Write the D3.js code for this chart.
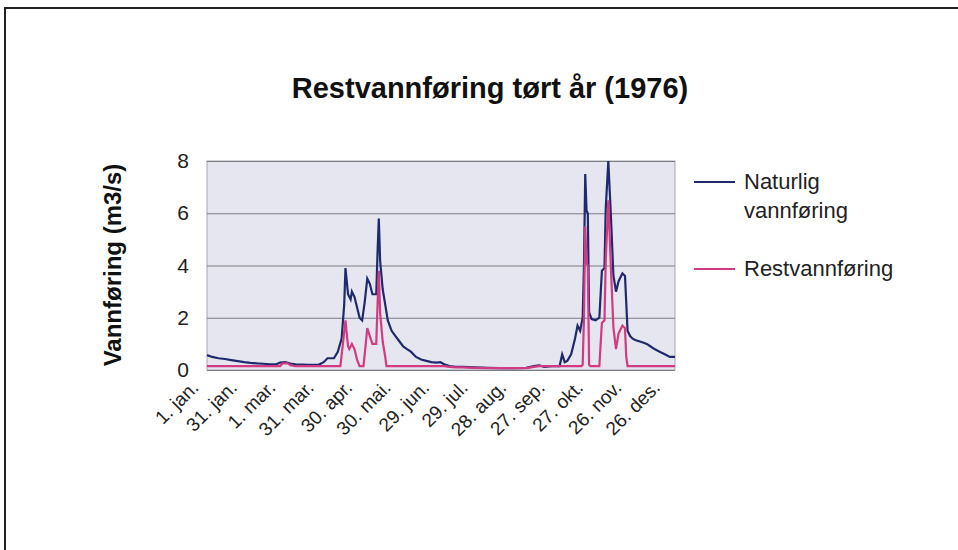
<!DOCTYPE html>
<html>
<head>
<meta charset="utf-8">
<script src="https://cdn.jsdelivr.net/npm/d3@7"></script>
<style>
  body { margin: 0; background: #ffffff; }
  svg { display: block; font-family: "Liberation Sans", Arial, sans-serif; }
</style>
</head>
<body>
<div id="chart"></div>
<script>
// day of year (1976, leap year) for the labelled ticks
var tickDays = [1, 31, 61, 91, 121, 151, 181, 211, 241, 271, 301, 331, 361];
var tickLabels = ["1. jan.", "31. jan.", "1. mar.", "31. mar.", "30. apr.", "30. mai.",
                  "29. jun.", "29. jul.", "28. aug.", "27. sep.", "27. okt.", "26. nov.", "26. des."];
var yTicks = [0, 2, 4, 6, 8];

// Naturlig vannføring, [day, m3/s]
var naturlig = [
  [1,0.57],[5,0.5],[10,0.45],[15,0.42],[20,0.38],[25,0.34],[30,0.3],[35,0.27],[40,0.25],
  [45,0.24],[50,0.22],[55,0.22],[58,0.28],[62,0.3],[66,0.25],[70,0.22],[80,0.2],[88,0.2],
  [92,0.3],[95,0.45],[100,0.45],[103,0.7],[106,1.2],[108,2.5],[109,3.9],[111,2.9],[113,2.7],
  [114,3.0],[116,2.8],[118,2.4],[120,2.0],[122,1.9],[124,2.6],[126,3.5],[128,3.3],[130,2.9],
  [133,2.9],[134,4.5],[135,5.8],[136,4.2],[138,3.1],[140,2.5],[142,1.9],[145,1.5],[148,1.3],
  [151,1.1],[154,0.9],[157,0.8],[160,0.7],[164,0.5],[168,0.4],[172,0.35],[176,0.3],[180,0.28],
  [183,0.3],[186,0.22],[190,0.15],[195,0.12],[200,0.12],[210,0.1],[220,0.08],[230,0.07],
  [240,0.07],[250,0.08],[256,0.15],[260,0.18],[264,0.12],[270,0.15],[276,0.15],[278,0.6],
  [280,0.3],[282,0.35],[285,0.6],[288,1.2],[290,1.7],[292,1.5],[294,2.0],[295,4.0],[296,7.5],
  [297,6.1],[298,6.0],[299,2.2],[301,1.95],[304,1.9],[307,2.0],[309,3.8],[311,3.9],[312,6.2],
  [314,8.0],[316,5.9],[318,3.6],[320,3.0],[322,3.4],[325,3.7],[327,3.6],[329,1.5],[331,1.3],
  [333,1.2],[335,1.15],[338,1.1],[341,1.05],[344,1.0],[347,0.9],[350,0.8],[354,0.7],
  [358,0.6],[362,0.5],[366,0.5]
];

// Restvannføring
var restvann = [
  [1,0.15],[58,0.15],[60,0.25],[64,0.25],[66,0.18],[70,0.15],[105,0.15],[107,1.0],[109,1.9],
  [111,0.9],[112,0.8],[114,1.0],[116,0.8],[118,0.4],[120,0.15],[123,0.15],[124,0.6],[126,1.6],
  [128,1.3],[130,1.0],[133,1.0],[134,2.5],[135,3.8],[136,2.2],[138,1.1],[140,0.5],[141,0.15],
  [186,0.15],[190,0.12],[195,0.1],[200,0.1],[210,0.08],[220,0.07],[250,0.07],[256,0.12],
  [260,0.15],[293,0.15],[294,0.2],[295,2.0],[296,5.5],[297,4.1],[298,4.0],[299,0.2],[300,0.15],
  [307,0.15],[308,1.0],[309,1.8],[311,1.9],[312,4.2],[314,6.5],[316,3.9],[318,1.6],[320,0.8],
  [322,1.4],[325,1.7],[327,1.6],[328,0.5],[329,0.15],[366,0.15]
];

var blue = "#1e2a6c", pink = "#d23a82";

var svg = d3.select("#chart").append("svg")
  .attr("width", 958)
  .attr("height", 550);

// scanned frame: left and top edges
svg.append("path")
  .attr("d", "M5,550V8H958")
  .attr("fill", "none")
  .attr("stroke", "#222")
  .attr("stroke-width", 2);

var x = d3.scaleLinear().domain([1, 366]).range([207, 675]);
var y = d3.scaleLinear().domain([0, 8]).range([370, 161]);

// plot area
svg.append("rect")
  .attr("x", x(1)).attr("y", y(8))
  .attr("width", x(366) - x(1)).attr("height", y(0) - y(8))
  .attr("fill", "#e5e6ef")
  .attr("stroke", "#a8a8b0");

// gridlines
svg.append("g")
  .attr("transform", "translate(" + x(1) + ",0)")
  .call(d3.axisLeft(y).tickValues(yTicks).tickSize(-(x(366) - x(1))).tickFormat(""))
  .call(function (g) {
    g.select(".domain").remove();
    g.selectAll("line").attr("stroke", "#7c7c84");
  });

// y tick labels
svg.append("g")
  .attr("transform", "translate(" + (x(1) - 18) + ",0)")
  .call(d3.axisLeft(y).tickValues(yTicks).tickSize(0).tickPadding(0))
  .call(function (g) {
    g.select(".domain").remove();
    g.selectAll("text").attr("font-size", 21).attr("fill", "#222")
      .attr("font-family", "Liberation Sans, Arial, sans-serif");
  });

// x tick labels, slanted
svg.append("g")
  .selectAll("text")
  .data(tickDays)
  .enter()
    .append("text")
    .attr("transform", function (d) { return "translate(" + (x(d) - 12) + ",384) rotate(-45)"; })
    .attr("text-anchor", "end")
    .attr("dy", "0.35em")
    .attr("font-size", 19)
    .attr("fill", "#222")
    .text(function (d, i) { return tickLabels[i]; });

var line = d3.line()
  .x(function (d) { return x(d[0]); })
  .y(function (d) { return y(d[1]); });

svg.append("path")
  .datum(naturlig)
  .attr("d", line)
  .attr("fill", "none")
  .attr("stroke", blue)
  .attr("stroke-width", 2.2);

svg.append("path")
  .datum(restvann)
  .attr("d", line)
  .attr("fill", "none")
  .attr("stroke", pink)
  .attr("stroke-width", 2.2);

// title
svg.append("text")
  .attr("x", 490).attr("y", 98)
  .attr("text-anchor", "middle")
  .attr("font-size", 29)
  .attr("font-weight", "bold")
  .attr("fill", "#111")
  .text("Restvannføring tørt år (1976)");

// y axis title
svg.append("text")
  .attr("transform", "translate(121,265) rotate(-90)")
  .attr("text-anchor", "middle")
  .attr("font-size", 24)
  .attr("font-weight", "bold")
  .attr("fill", "#111")
  .text("Vannføring (m3/s)");

// legend
var legend = [
  { name: ["Naturlig", "vannføring"], color: blue, y: 182 },
  { name: ["Restvannføring"], color: pink, y: 269 }
];

var items = svg.append("g").selectAll("g")
  .data(legend)
  .enter()
    .append("g");

items.append("line")
  .attr("x1", 694).attr("x2", 735)
  .attr("y1", function (d) { return d.y; })
  .attr("y2", function (d) { return d.y; })
  .attr("stroke", function (d) { return d.color; })
  .attr("stroke-width", 2);

items.each(function (d) {
  var t = d3.select(this).append("text")
    .attr("x", 744)
    .attr("y", d.y + 7)
    .attr("font-size", 22)
    .attr("fill", "#222");
  d.name.forEach(function (s, i) {
    t.append("tspan").attr("x", 744).attr("dy", i ? 29 : 0).text(s);
  });
});
</script>
</body>
</html>
